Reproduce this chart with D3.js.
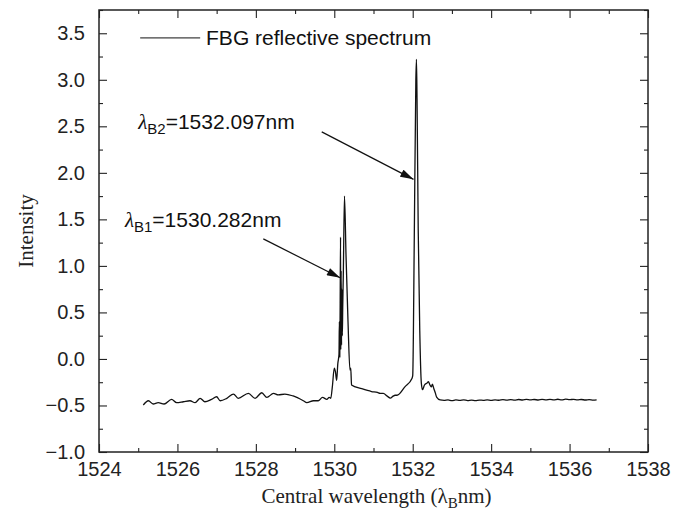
<!DOCTYPE html>
<html><head><meta charset="utf-8">
<script src="https://cdn.jsdelivr.net/npm/d3@7"></script>
<style>body{margin:0;background:#fff}</style>
</head><body><svg id="c" width="681" height="515"></svg>
<script>
const wavelength=[1525.13,1525.26,1525.38,1525.51,1525.66,1525.85,1525.98,1526.15,1526.32,1526.45,1526.58,1526.70,1526.87,1527.00,1527.09,1527.26,1527.43,1527.55,1527.81,1527.98,1528.15,1528.28,1528.45,1528.57,1528.74,1528.95,1529.21,1529.30,1529.47,1529.59,1529.70,1529.81,1529.87,1529.91,
1529.95,1530.00,1530.03,1530.06,1530.09,1530.12,1530.13,1530.14,1530.15,1530.16,1530.165,1530.175,1530.185,1530.195,1530.205,1530.215,1530.23,1530.26,1530.30,1530.35,1530.40,1530.42,1530.44,1530.70,1530.95,1531.10,1531.17,1531.25,1531.35,1531.43,1531.50,1531.55,1531.60,1531.80,1531.98,
1532.00,1532.04,1532.08,1532.095,1532.11,1532.14,1532.18,1532.22,1532.25,1532.30,1532.36,1532.40,1532.44,1532.48,1532.50,1532.54,1532.58,1532.61,1532.70,
1532.80,1532.90,1533.00,1533.10,1533.20,1533.30,1533.40,1533.50,1533.60,1533.70,1533.80,1533.90,1534.00,1534.10,1534.20,1534.30,1534.40,1534.50,1534.60,1534.70,1534.80,1534.90,1535.00,1535.10,1535.20,1535.30,1535.40,1535.50,1535.60,1535.70,1535.80,1535.90,1536.00,1536.10,1536.20,1536.30,1536.40,1536.50,1536.60,1536.69];
const intensity=[-0.495,-0.449,-0.484,-0.47,-0.484,-0.434,-0.47,-0.46,-0.449,-0.47,-0.423,-0.46,-0.434,-0.406,-0.449,-0.423,-0.377,-0.423,-0.37,-0.423,-0.363,-0.413,-0.37,-0.387,-0.377,-0.398,-0.449,-0.47,-0.449,-0.449,-0.413,-0.434,-0.413,-0.423,
-0.30,-0.10,-0.14,-0.23,-0.05,0.05,0.40,0.02,0.60,1.31,0.10,0.95,0.15,0.75,0.25,0.55,0.90,1.75,1.10,0.40,-0.12,-0.10,-0.28,-0.32,-0.35,-0.36,-0.37,-0.37,-0.40,-0.42,-0.40,-0.39,-0.39,-0.30,-0.21,
-0.18,1.30,3.00,3.22,2.80,1.40,0.30,-0.26,-0.33,-0.28,-0.26,-0.245,-0.28,-0.30,-0.27,-0.32,-0.37,-0.41,-0.44,
-0.445,-0.44,-0.448,-0.44,-0.446,-0.44,-0.447,-0.443,-0.447,-0.442,-0.445,-0.44,-0.446,-0.44,-0.444,-0.438,-0.443,-0.437,-0.442,-0.436,-0.441,-0.435,-0.44,-0.436,-0.441,-0.435,-0.44,-0.434,-0.44,-0.433,-0.44,-0.432,-0.438,-0.434,-0.44,-0.436,-0.441,-0.437,-0.442,-0.44];
const xTicks=[1524,1526,1528,1530,1532,1534,1536,1538];
const xMinor=[1525,1527,1529,1531,1533,1535,1537];
const yTicks=[-1.0,-0.5,0.0,0.5,1.0,1.5,2.0,2.5,3.0,3.5];
const yMinor=[-0.75,-0.25,0.25,0.75,1.25,1.75,2.25,2.75,3.25,3.75];
const seriesName="FBG reflective spectrum";
const annotations=[
  {sub:"B2",label:"=1532.097nm",tx:1525.0,ty:2.47,x1:1529.68,y1:2.44,x2:1532.02,y2:1.93},
  {sub:"B1",label:"=1530.282nm",tx:1524.66,ty:1.42,x1:1528.19,y1:1.29,x2:1530.15,y2:0.873}
];

const W=681,H=515,m={l:99,r:33,t:10,b:63};
const svg=d3.select("#c");
const x=d3.scaleLinear().domain([1524,1538]).range([m.l,W-m.r]);
const y=d3.scaleLinear().domain([-1,3.75]).range([H-m.b,m.t]);
const sans="Liberation Sans, Arial, sans-serif", serif="Liberation Serif, Times New Roman, serif";

function styleAxis(g){g.select(".domain").remove();g.selectAll("line").attr("stroke","#222").attr("stroke-width",1.1);
  g.selectAll("text").attr("font-family",sans).attr("font-size",20).attr("fill","#222");}
svg.append("g").attr("transform",`translate(0,${H-m.b})`).call(d3.axisBottom(x).tickValues(xTicks).tickSize(-8).tickPadding(10).tickFormat(d3.format("d"))).call(styleAxis);
svg.append("g").attr("transform",`translate(0,${H-m.b})`).call(d3.axisBottom(x).tickValues(xMinor).tickSize(-4).tickFormat("")).call(styleAxis);
svg.append("g").attr("transform",`translate(0,${m.t})`).call(d3.axisTop(x).tickValues(xTicks).tickSize(-8).tickFormat("")).call(styleAxis);
svg.append("g").attr("transform",`translate(0,${m.t})`).call(d3.axisTop(x).tickValues(xMinor).tickSize(-4).tickFormat("")).call(styleAxis);
svg.append("g").attr("transform",`translate(${m.l},0)`).call(d3.axisLeft(y).tickValues(yTicks).tickSize(-8).tickPadding(14).tickFormat(d3.format(".1f"))).call(styleAxis);
svg.append("g").attr("transform",`translate(${m.l},0)`).call(d3.axisLeft(y).tickValues(yMinor).tickSize(-4).tickFormat("")).call(styleAxis);
svg.append("g").attr("transform",`translate(${W-m.r},0)`).call(d3.axisRight(y).tickValues(yTicks).tickSize(-8).tickFormat("")).call(styleAxis);
svg.append("g").attr("transform",`translate(${W-m.r},0)`).call(d3.axisRight(y).tickValues(yMinor).tickSize(-4).tickFormat("")).call(styleAxis);

svg.append("rect").attr("x",m.l).attr("y",m.t).attr("width",W-m.l-m.r).attr("height",H-m.t-m.b)
  .attr("fill","none").attr("stroke","#222").attr("stroke-width",1.5);

const pts=wavelength.map((w,i)=>[w,intensity[i]]);
svg.append("path").datum(pts).attr("fill","none").attr("stroke","#111").attr("stroke-width",1.3)
  .attr("stroke-linejoin","round").attr("d",d3.line().curve(d3.curveMonotoneX).x(d=>x(d[0])).y(d=>y(d[1])));

// legend
svg.append("line").attr("x1",x(1525.05)).attr("x2",x(1526.58)).attr("y1",y(3.45)).attr("y2",y(3.45)).attr("stroke","#111").attr("stroke-width",1);
svg.append("text").attr("x",x(1526.73)).attr("y",y(3.45)+7).attr("font-family",sans).attr("font-size",21).attr("fill","#111").text(seriesName);

// arrows
svg.append("defs").append("marker").attr("id","ah").attr("viewBox","0 0 10 6").attr("refX",10).attr("refY",3)
  .attr("markerWidth",14).attr("markerHeight",8).attr("markerUnits","userSpaceOnUse").attr("orient","auto")
  .append("path").attr("d","M0,0L10,3L0,6Z").attr("fill","#111");
annotations.forEach(a=>{
  svg.append("line").attr("x1",x(a.x1)).attr("y1",y(a.y1)).attr("x2",x(a.x2)).attr("y2",y(a.y2))
    .attr("stroke","#111").attr("stroke-width",1.2).attr("marker-end","url(#ah)");
  const t=svg.append("text").attr("x",x(a.tx)).attr("y",y(a.ty)).attr("font-family",sans).attr("font-size",21).attr("fill","#111");
  t.append("tspan").attr("font-family",serif).attr("font-style","italic").text("λ");
  t.append("tspan").attr("font-size",15).attr("dy",5).text(a.sub);
  t.append("tspan").attr("dy",-5).text(a.label);
});

// axis titles
svg.append("text").attr("x",(m.l+W-m.r)/2+3).attr("y",503).attr("text-anchor","middle").attr("font-family",serif).attr("font-size",21).attr("fill","#222")
  .call(t=>{t.append("tspan").text("Central wavelength (λ");t.append("tspan").attr("font-size",15).attr("dy",5).text("B");t.append("tspan").attr("dy",-5).text("nm)");});
svg.append("text").attr("transform",`translate(33,${(m.t+H-m.b)/2}) rotate(-90)`).attr("text-anchor","middle").attr("font-family",serif).attr("font-size",21).attr("fill","#222").text("Intensity");
</script></body></html>
